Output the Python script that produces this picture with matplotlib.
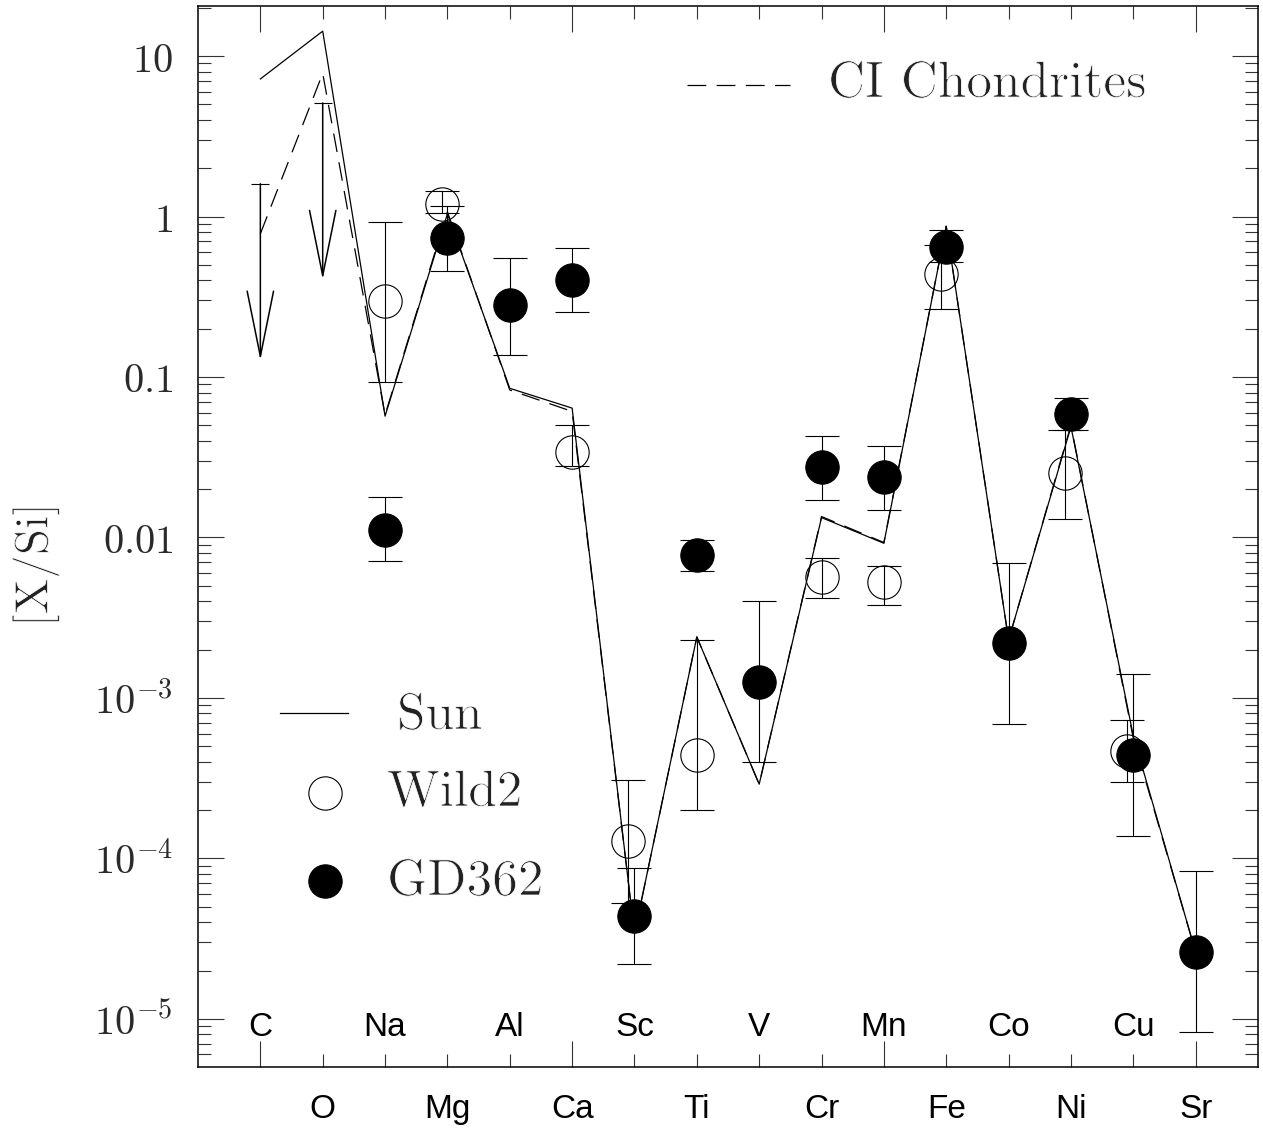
import numpy as np
import matplotlib
matplotlib.use("Agg")
import matplotlib.pyplot as plt
import matplotlib.transforms as mtransforms
import matplotlib.patheffects as pe
from matplotlib.ticker import FixedLocator, LogLocator, NullFormatter

plt.rcParams["mathtext.fontset"] = "cm"
plt.rcParams["lines.scale_dashes"] = False

# Element sequence along the x axis
elements = ["C", "O", "Na", "Mg", "Al", "Ca", "Sc", "Ti", "V", "Cr",
            "Mn", "Fe", "Co", "Ni", "Cu", "Sr"]

# Reference abundance patterns, number ratio relative to Si
sun = [7.2, 14.3, 0.057, 1.04, 0.085, 0.064, 3.4e-5, 2.4e-3, 2.9e-4,
       0.0133, 0.0092, 0.87, 2.3e-3, 0.049, 5.8e-4, 2.6e-5]
ci_chondrites = [0.78, 7.8, 0.058, 1.07, 0.083, 0.061, 3.4e-5, 2.4e-3, 2.9e-4,
                 0.0135, 0.0093, 0.87, 2.3e-3, 0.050, 5.6e-4, 2.6e-5]

# Comet Wild 2 dust
wild2_el = ["Na", "Mg", "Ca", "Sc", "Ti", "Cr", "Mn", "Fe", "Ni", "Cu"]
wild2_val = [0.296, 1.20, 0.034, 1.28e-4, 4.4e-4, 5.7e-3, 5.3e-3, 0.44, 0.0252, 4.7e-4]
wild2_hi = [0.93, 1.44, 0.050, 3.1e-4, 2.3e-3, 7.4e-3, 6.6e-3, 0.66, 0.0468, 7.3e-4]
wild2_lo = [0.093, 1.05, 0.028, 5.3e-5, 2.0e-4, 4.2e-3, 3.8e-3, 0.264, 0.0131, 3.0e-4]
wild2_nudge = [0, -0.08, 0, -0.1, 0, 0, 0, -0.08, -0.1, -0.1]

# White dwarf GD 362 photosphere
gd_el = ["Na", "Mg", "Al", "Ca", "Sc", "Ti", "V", "Cr", "Mn", "Fe", "Co", "Ni", "Cu", "Sr"]
gd_val = [0.0112, 0.73, 0.28, 0.405, 4.4e-5, 7.8e-3, 1.25e-3, 0.0273, 0.0237,
          0.65, 2.2e-3, 0.0586, 4.4e-4, 2.6e-5]
gd_hi = [0.0178, 1.16, 0.55, 0.634, 8.7e-5, 9.6e-3, 4.0e-3, 0.0426, 0.037,
         0.82, 6.9e-3, 0.0745, 1.4e-3, 8.3e-5]
gd_lo = [0.0071, 0.46, 0.138, 0.253, 2.2e-5, 6.2e-3, 4.0e-4, 0.017, 0.0148,
         0.52, 6.9e-4, 0.0468, 1.38e-4, 8.3e-6]

# GD 362 upper limits
gd_lim_el = ["C", "O"]
gd_lim = [1.6, 5.1]
limit_arrow_dex = 1.1

pos = {el: i + 1 for i, el in enumerate(elements)}
xs = np.arange(1, len(elements) + 1)

fig = plt.figure(figsize=(12.63, 11.28), dpi=100)
ax = fig.add_axes([198 / 1263, 1 - 1067 / 1128, 1060 / 1263, 1061 / 1128])
ax.set_yscale("log")
ax.set_xlim(0, 17)
ax.set_ylim(10 ** -5.3, 10 ** 1.312)

serif = "cmr10"
lw = 0.9
# thin the strokes of the large serif captions a little
thin = [pe.Stroke(linewidth=0.55, foreground="white")]

# Abundance curves
ax.plot(xs, sun, color="k", lw=lw, zorder=2)
ax.plot(xs, ci_chondrites, color="k", lw=lw, dashes=(13.5, 7.5), zorder=2)

# Wild 2 points
wx = np.array([pos[e] for e in wild2_el]) + np.array(wild2_nudge)
wv = np.array(wild2_val)
ax.errorbar(wx, wv, yerr=[wv - np.array(wild2_lo), np.array(wild2_hi) - wv],
            fmt="o", ms=24, mfc="none", mec="k", mew=0.8, ecolor="k",
            elinewidth=0.8, capsize=12, capthick=0.8, zorder=3)

# GD 362 points
gx = np.array([pos[e] for e in gd_el])
gv = np.array(gd_val)
ax.errorbar(gx, gv, yerr=[gv - np.array(gd_lo), np.array(gd_hi) - gv],
            fmt="o", ms=24, mfc="k", mec="k", mew=0.8, ecolor="k",
            elinewidth=0.8, capsize=12, capthick=0.8, zorder=4)

# Upper limits: capped bar with a downward arrow
for el, lim in zip(gd_lim_el, gd_lim):
    x = pos[el]
    tip = lim * 10 ** -limit_arrow_dex
    ax.plot([x], [lim], marker="_", ms=13, mew=0.8, color="k", zorder=3)
    ax.annotate("", xy=(x, tip), xytext=(x, lim),
                arrowprops=dict(arrowstyle="->,head_length=4.7,head_width=0.95",
                                lw=1.1, color="k", shrinkA=0, shrinkB=0,
                                mutation_scale=10),
                zorder=3)

# Axes styling
for sp in ax.spines.values():
    sp.set_linewidth(1.1)
ax.xaxis.set_major_locator(FixedLocator([1, 6, 11, 16]))
ax.xaxis.set_minor_locator(FixedLocator([x for x in xs if (x - 1) % 5 != 0]))
ax.xaxis.set_major_formatter(NullFormatter())
ax.xaxis.set_minor_formatter(NullFormatter())

ydec = [1e-5, 1e-4, 1e-3, 1e-2, 0.1, 1, 10]
ylabels = [r"$10^{-5}$", r"$10^{-4}$", r"$10^{-3}$", r"$0.01$", r"$0.1$", r"$1$", r"$10$"]
ax.set_yticks(ydec)
ax.set_yticklabels(ylabels)
ax.yaxis.set_minor_locator(LogLocator(base=10, subs=np.arange(2, 10)))
ax.yaxis.set_minor_formatter(NullFormatter())

ax.tick_params(axis="both", which="both", direction="in", top=True, right=True,
               width=0.8, color="#333333")
ax.tick_params(axis="both", which="major", length=19)
ax.tick_params(axis="both", which="minor", length=9.5)
ax.tick_params(axis="y", which="major", labelsize=29, pad=18)
for lab in ax.get_yticklabels():
    lab.set_color("#2a2a2a")

# Element names, alternating inside and below the frame
trans = mtransforms.blended_transform_factory(ax.transData, ax.transAxes)
for i, el in enumerate(elements):
    y = 0.029 if i % 2 == 0 else -0.048
    ax.text(xs[i], y, el, transform=trans, ha="center", va="baseline",
            fontsize=24, family="Liberation Sans", clip_on=False)

# Y label
fig.text(36 / 1263, 1 - 565 / 1128, "[X/Si]", rotation=90, ha="center",
         va="center", fontsize=34, family=serif, color="#222222",
         path_effects=thin)

# Key
ta = ax.transAxes
key_kw = dict(transform=ta, fontsize=37, family=serif, va="baseline",
              ha="left", color="#222222", path_effects=thin)
ax.plot([0.0774, 0.1415], [0.3337, 0.3337], color="k", lw=lw, transform=ta)
ax.text(0.1877, 0.3186, "Sun", **key_kw)
ax.plot([0.1198], [0.2582], marker="o", ms=24, mfc="none", mec="k", mew=0.8,
        transform=ta)
ax.text(0.1783, 0.2460, "Wild2", **key_kw)
ax.plot([0.1198], [0.1753], marker="o", ms=24, mfc="k", mec="k", mew=0.8,
        transform=ta)
ax.text(0.1783, 0.1621, "GD362", **key_kw)
ax.plot([0.4613, 0.5585], [0.9255, 0.9255], color="k", lw=lw,
        dashes=(13.5, 7.5), transform=ta)
ax.text(0.5943, 0.9142, "CI Chondrites", **key_kw)

fig.savefig("out.png", dpi=100, facecolor="white")
